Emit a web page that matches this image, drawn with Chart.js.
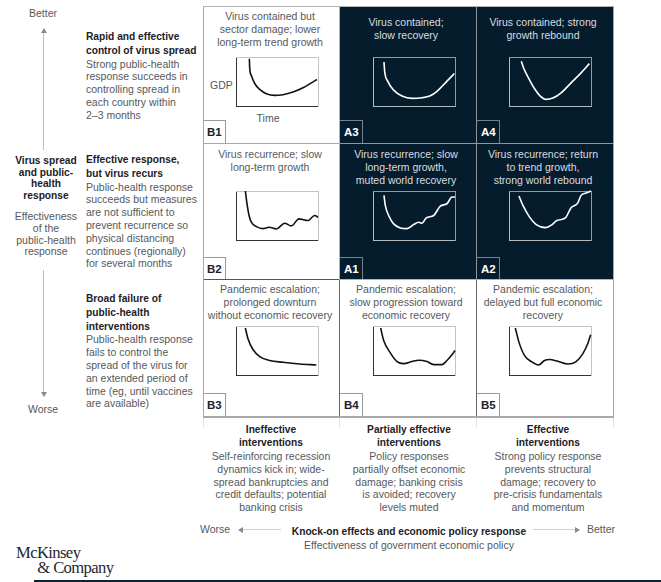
<!DOCTYPE html>
<html>
<head>
<meta charset="utf-8">
<script src="https://cdn.jsdelivr.net/npm/chart.js@4"></script>
<style>
html, body { margin: 0; padding: 0; background: #fff; }
body { width: 661px; height: 582px; position: relative; overflow: hidden;
       font-family: "Liberation Sans", sans-serif; font-size: 10.5px; line-height: 12.8px; color: #55595d; }
.t { position: absolute; white-space: nowrap; }
.c { transform: translateX(-50%); text-align: center; }
b { font-weight: bold; font-size: 10.2px; color: #1c2126; }
.panel { position: absolute; box-sizing: border-box; }
.dark { background: #051c2c; }
.tag { position: absolute; box-sizing: border-box; width: 23px; height: 23px; left: 0; bottom: 0;
       font-weight: bold; font-size: 11.5px; line-height: 22px; padding-left: 4px; color: #1c2126;
       border-top: 1px solid #999; border-right: 1px solid #999; background: #fff; }
.dark .tag { background: #051c2c; color: #fff; border-color: #77838c; }
.line { position: absolute; background: #a8a8a8; }
canvas { position: absolute; }
</style>
</head>
<body>
<script>
// categories
const panelIds = ['B1', 'A3', 'A4', 'B2', 'A1', 'A2', 'B3', 'B4', 'B5'];
const panelTitles = [
    ['Virus contained but', 'sector damage; lower', 'long-term trend growth'],
    ['Virus contained;', 'slow recovery'],
    ['Virus contained; strong', 'growth rebound'],
    ['Virus recurrence; slow', 'long-term growth'],
    ['Virus recurrence; slow', 'long-term growth,', 'muted world recovery'],
    ['Virus recurrence; return', 'to trend growth,', 'strong world rebound'],
    ['Pandemic escalation;', 'prolonged downturn', 'without economic recovery'],
    ['Pandemic escalation;', 'slow progression toward', 'economic recovery'],
    ['Pandemic escalation;', 'delayed but full economic', 'recovery']
];

// GDP curves, time and GDP as % of each small frame
const b1Time = [16.3, 16.7, 18.7, 22.8, 28.9, 37, 47.2, 57.3, 69.5, 81.7, 91.9, 98.8];
const b1Gdp = [96.6, 77.7, 62.2, 45.9, 33.8, 25, 21.6, 23, 28.4, 37.2, 47.3, 54];
const a3Time = [13.4, 14.2, 17.9, 25.2, 35.4, 47.6, 59.8, 69.9, 78, 90.2, 99.2];
const a3Gdp = [89.9, 70.9, 50.7, 32.4, 20.3, 15.5, 16.9, 21, 30, 50.7, 66.2];
const a4Time = [15, 17.8, 23.1, 31.2, 38.1, 45.3, 53.4, 63.6, 75.7, 87.9, 98];
const a4Gdp = [91.2, 77.7, 59.5, 35.1, 20.3, 13.5, 16.2, 27, 47.3, 67.6, 86.5];
const b2Time = [11.4, 13.4, 15.9, 18.7, 24.8, 32.9, 40.2, 49.2, 59.3, 67.5, 76.8, 87.8, 95.9, 100];
const b2Gdp = [100, 74, 50, 36.3, 27.4, 23.3, 26, 22.6, 34.2, 28.8, 43.2, 39.7, 50, 46.6];
const a1Time = [13.4, 15, 19.1, 25.2, 33.3, 41.5, 49.6, 55.7, 59.8, 65, 74, 82.1, 90.2, 96.3, 100];
const a1Gdp = [91, 70.5, 50, 32.9, 24.7, 23.3, 31.5, 36.3, 34.2, 45.2, 50, 69.2, 74, 87.7, 87.7];
const a2Time = [12.1, 17, 25.1, 33.2, 44.5, 52.6, 58.3, 68.8, 75.7, 83.8, 87.9, 94, 100];
const a2Gdp = [89.7, 70.5, 46.6, 31.5, 25.3, 31.5, 39.7, 45.2, 65.8, 75.3, 91.1, 95.9, 100];
const b3Time = [11.4, 14.6, 20.7, 28.9, 41.1, 57.3, 77.6, 98];
const b3Gdp = [95.9, 74, 52.1, 37.7, 29.5, 26, 22.6, 20.5];
const b4Time = [9.3, 13, 21.1, 29.3, 37.4, 47.6, 55.7, 65.9, 74, 84.1, 90.2, 96.3, 100];
const b4Gdp = [95.9, 70.5, 45.2, 27.4, 23.3, 27.4, 30.1, 27.4, 21.2, 21.2, 29.5, 41.1, 50];
const b5Time = [7.7, 12.1, 19, 27.1, 36, 43.3, 49.4, 59.5, 71.7, 81.8, 89.9, 96, 99.6];
const b5Gdp = [95.9, 67.1, 39.7, 27.4, 20.5, 29.5, 31.5, 28.1, 22.6, 27.4, 43.2, 63.7, 82.2];

const panelTimes = [b1Time, a3Time, a4Time, b2Time, a1Time, a2Time, b3Time, b4Time, b5Time];
const panelGdps = [b1Gdp, a3Gdp, a4Gdp, b2Gdp, a1Gdp, a2Gdp, b3Gdp, b4Gdp, b5Gdp];

// layout
const colX = [203, 340, 477, 613];
const rowY = [7, 143, 280, 416];
const colText = [270, 406, 543];
const rowText = [10, 148, 283];
const frameX = [236, 373, 509];
const frameY = [57, 191, 326];
const frameW = 82, frameH = 49;

function addText(x, y, html, centered) {
    const el = document.createElement('div');
    el.className = centered ? 't c' : 't';
    el.style.left = x + 'px';
    el.style.top = y + 'px';
    el.innerHTML = html;
    document.body.appendChild(el);
    return el;
}

function addLine(x, y, w, h, color) {
    const el = document.createElement('div');
    el.className = 'line';
    el.style.cssText = 'left:' + x + 'px;top:' + y + 'px;width:' + w + 'px;height:' + h + 'px;' + (color ? 'background:' + color : '');
    document.body.appendChild(el);
    return el;
}

function drawMini(i, col, row, dark) {
    const canvas = document.createElement('canvas');
    canvas.width = frameW + 6;
    canvas.height = frameH + 6;
    canvas.style.left = (frameX[col] - 3) + 'px';
    canvas.style.top = (frameY[row] - 3) + 'px';
    document.body.appendChild(canvas);

    const solid = dark ? '#b4bbc0' : '#333';
    const dotted = dark ? '#8f9aa2' : '#c4c4c4';
    const hide = { ticks: { display: false }, grid: { display: false, drawTicks: false } };
    const points = panelTimes[i].map(function(t, k) { return { x: t, y: panelGdps[i][k] }; });

    new Chart(canvas.getContext('2d'), {
        type: 'line',
        data: {
            datasets: [{
                data: points,
                borderColor: dark ? '#fff' : '#111',
                borderWidth: 1.6,
                pointRadius: 0,
                cubicInterpolationMode: 'monotone',
                clip: false
            }]
        },
        options: {
            responsive: false,
            animation: false,
            events: [],
            layout: { padding: 3 },
            plugins: { legend: { display: false }, tooltip: { enabled: false } },
            scales: {
                x: { type: 'linear', min: 0, max: 100, ...hide, border: { color: solid, width: 1 } },
                y: { type: 'linear', min: 0, max: 100, ...hide, border: { color: solid, width: 1 } },
                top: { type: 'linear', axis: 'x', position: 'top', min: 0, max: 100, ...hide, border: { color: dotted, width: 1, dash: [1, 1] } },
                right: { type: 'linear', axis: 'y', position: 'right', min: 0, max: 100, ...hide, border: { color: dotted, width: 1, dash: [1, 1] } }
            }
        }
    });
}

// panels
panelIds.forEach(function(id, i) {
    const col = i % 3, row = Math.floor(i / 3);
    const dark = id.charAt(0) === 'A';
    const p = document.createElement('div');
    p.className = 'panel' + (dark ? ' dark' : '');
    p.style.cssText = 'left:' + colX[col] + 'px;top:' + rowY[row] + 'px;width:' + (colX[col + 1] - colX[col]) + 'px;height:' + (rowY[row + 1] - rowY[row]) + 'px';
    p.innerHTML = '<div class="tag">' + id + '</div>';
    document.body.appendChild(p);
});

// grid lines
addLine(203, 6, 411, 1, '#b5b5b5');
addLine(203, 143, 137, 1);
addLine(340, 143, 273, 1, '#8e979d');
addLine(203, 279, 137, 1, '#555');
addLine(340, 279, 274, 1, '#b5b5b5');
addLine(203, 416, 411, 2);
addLine(203, 6, 1, 411);
addLine(339, 6, 1, 137, '#b5b5b5');
addLine(339, 143, 1, 137, '#b5b5b5');
addLine(339, 280, 1, 136, '#666');
addLine(476, 6, 1, 274, '#8e979d');
addLine(476, 280, 1, 136, '#666');
addLine(613, 6, 1, 411);
[203, 339, 476, 613].forEach(function(x) { addLine(x, 418, 1, 10, '#e2e2e2'); });

panelIds.forEach(function(id, i) {
    const col = i % 3, row = Math.floor(i / 3);
    const dark = id.charAt(0) === 'A';
    const top = panelTitles[i].length === 2 && row === 0 ? 16 : rowText[row];
    const el = addText(colText[col], top, panelTitles[i].join('<br>'), true);
    if (dark) el.style.color = '#d9dde0';
    drawMini(i, col, row, dark);
});

addText(210, 78.5, 'GDP');
addText(268, 111.5, 'Time', true);

// left column
addText(86, 30, '<b>Rapid and effective<br>control of virus spread</b><br>Strong public-health<br>response succeeds in<br>controlling spread in<br>each country within<br>2\u20133 months');
addText(86, 153, '<b>Effective response,<br>but virus recurs</b><br>Public-health response<br>succeeds but measures<br>are not sufficient to<br>prevent recurrence so<br>physical distancing<br>continues (regionally)<br>for several months');
addText(86, 292, '<b>Broad failure of<br>public-health<br>interventions</b><br>Public-health response<br>fails to control the<br>spread of the virus for<br>an extended period of<br>time (eg, until vaccines<br>are available)');
const spread = addText(46, 155, '<b>Virus spread<br>and public-<br>health<br>response</b><br><span style="display:block;height:10px"></span>Effectiveness<br>of the<br>public-health<br>response', true);
spread.style.lineHeight = '11.6px';
addText(43, 7, 'Better', true);
addText(43, 403, 'Worse', true);

// bottom column
const bottomText = [
    '<b>Ineffective<br>interventions</b><br>Self-reinforcing recession<br>dynamics kick in; wide-<br>spread bankruptcies and<br>credit defaults; potential<br>banking crisis',
    '<b>Partially effective<br>interventions</b><br>Policy responses<br>partially offset economic<br>damage; banking crisis<br>is avoided; recovery<br>levels muted',
    '<b>Effective<br>interventions</b><br>Strong policy response<br>prevents structural<br>damage; recovery to<br>pre-crisis fundamentals<br>and momentum'
];
[271, 409, 548].forEach(function(x, i) { addText(x, 422.5, bottomText[i], true); });
addText(409, 525, '<b>Knock-on effects and economic policy response</b><br>Effectiveness of government economic policy', true);
addText(200, 523, 'Worse');
addText(587, 523, 'Better');

// arrows
addLine(43, 33, 1, 117, '#bdbdbd');
addLine(43, 270, 1, 122, '#bdbdbd');
addLine(243, 529, 38, 1, '#cfcfcf');
addLine(533, 529, 42, 1, '#cfcfcf');
function arrow(x, y, dir) {
    const el = document.createElement('div');
    const s = 'position:absolute;left:' + x + 'px;top:' + y + 'px;width:0;height:0;';
    const side = 'border-left:3px solid transparent;border-right:3px solid transparent;';
    const sideV = 'border-top:3px solid transparent;border-bottom:3px solid transparent;';
    const map = {
        up: side + 'border-bottom:5px solid #8a8a8a',
        down: side + 'border-top:5px solid #8a8a8a',
        left: sideV + 'border-right:5px solid #8a8a8a',
        right: sideV + 'border-left:5px solid #8a8a8a'
    };
    el.style.cssText = s + map[dir];
    document.body.appendChild(el);
}
arrow(40.5, 28, 'up');
arrow(40.5, 392, 'down');
arrow(238, 526.5, 'left');
arrow(575, 526.5, 'right');

// logo and bottom rule
const logo = addText(16, 545, '');
logo.textContent = 'McKinsey\n\u00a0\u00a0\u00a0\u00a0\u00a0\u00a0& Company';
logo.style.cssText += 'white-space:pre;font-family:"Liberation Serif",serif;font-size:16.6px;line-height:15px;letter-spacing:-0.6px;color:#1c2733';
addLine(34, 580, 627, 2, '#0b2233');
</script>
</body>
</html>
